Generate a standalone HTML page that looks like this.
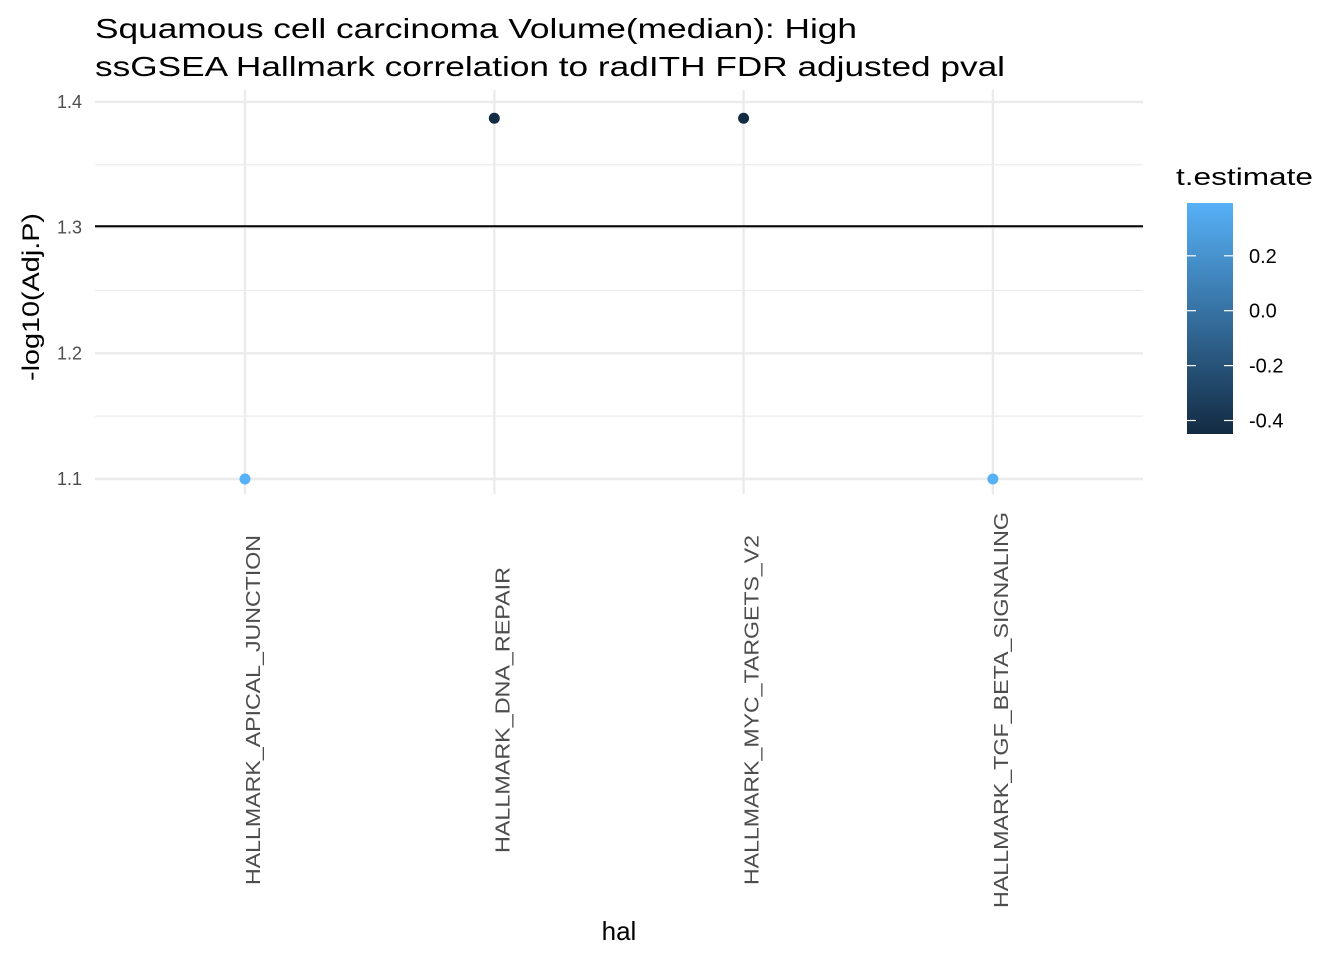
<!DOCTYPE html>
<html><head><meta charset="utf-8"><style>
body{margin:0;background:#fff;font-family:"Liberation Sans",Arial,sans-serif}
</style></head><body>
<svg id="chart" width="1344" height="960" xmlns="http://www.w3.org/2000/svg" font-family="Liberation Sans, Arial, sans-serif">
<defs><linearGradient id="cb" x1="0" y1="1" x2="0" y2="0"><stop offset="0" stop-color="#132B43"/><stop offset="1" stop-color="#56B1F7"/></linearGradient></defs>
<text x="95" y="38" font-size="28" textLength="762" lengthAdjust="spacingAndGlyphs" fill="#000">Squamous cell carcinoma Volume(median): High</text>
<text x="95" y="76" font-size="28" textLength="910" lengthAdjust="spacingAndGlyphs" fill="#000">ssGSEA Hallmark correlation to radITH FDR adjusted pval</text>
<g id="grid"></g><g id="marks"></g><g id="axes"></g>
<text x="619" y="940" font-size="26" text-anchor="middle">hal</text>
<text transform="translate(39,297) rotate(-90)" font-size="24" textLength="168" lengthAdjust="spacingAndGlyphs" text-anchor="middle">-log10(Adj.P)</text>
<g>
<text x="1176" y="185" font-size="24" textLength="137" lengthAdjust="spacingAndGlyphs">t.estimate</text>
<rect x="1187" y="203" width="46" height="231" fill="url(#cb)"/>
<g id="cbticks"></g>
</g>
</svg>
<script>
const categories=["HALLMARK_APICAL_JUNCTION","HALLMARK_DNA_REPAIR","HALLMARK_MYC_TARGETS_V2","HALLMARK_TGF_BETA_SIGNALING"];
const pvals=[1.1,1.387,1.387,1.1];
const tvals=[0.39,-0.45,-0.45,0.39];
const yTicks=[1.1,1.2,1.3,1.4];
const cbTicks=[0.2,0.0,-0.2,-0.4];
const cbLabels=["0.2","0.0","-0.2","-0.4"];
const hline=1.30103;
const NS="http://www.w3.org/2000/svg";
const x0=95,x1=1143;
function xs(i){return 245+i*249.3;}
function ys(v){return 479-(v-1.1)*1257;}
function cbY(v){return 310.7-v*274.5;}
const tMin=-0.448,tMax=0.393;
function col(t){const f=(t-tMin)/(tMax-tMin);const a=[0x13,0x2B,0x43],b=[0x56,0xB1,0xF7];return "rgb("+a.map((c,i)=>Math.round(c+(b[i]-c)*Math.max(0,Math.min(1,f)))).join(",")+")";}
function el(tag,attrs,parent,txt){const e=document.createElementNS(NS,tag);for(const k in attrs)e.setAttribute(k,attrs[k]);if(txt!==undefined)e.textContent=txt;document.getElementById(parent).appendChild(e);return e;}
for(let i=0;i<yTicks.length-1;i++){const m=(yTicks[i]+yTicks[i+1])/2;
const g=el("line",{x1:x0,x2:x1,y1:ys(m),y2:ys(m),stroke:"#ebebeb","stroke-width":1.2},"grid");

}
yTicks.forEach(v=>{const g=el("line",{x1:x0,x2:x1,y1:ys(v),y2:ys(v),stroke:"#ebebeb","stroke-width":2.4},"grid");


const t=el("text",{x:82,y:ys(v)+6,"font-size":18,fill:"#4d4d4d","text-anchor":"end"},"axes",v.toFixed(1));

});
const labLen=[350,286,350,396];
categories.forEach((c,i)=>{const g=el("line",{x1:xs(i),x2:xs(i),y1:90,y2:494,stroke:"#ebebeb","stroke-width":2.4},"grid");


const t=el("text",{transform:"translate("+(xs(i)+15)+",710) rotate(-90)","font-size":20,fill:"#4d4d4d","text-anchor":"middle",textLength:labLen[i],lengthAdjust:"spacingAndGlyphs"},"axes",c);

});
const h=el("line",{x1:x0,x2:x1,y1:ys(hline),y2:ys(hline),stroke:"#000","stroke-width":2},"marks");


categories.forEach((c,i)=>{const p=el("circle",{cx:xs(i),cy:ys(pvals[i]),r:5.5,fill:col(tvals[i])},"marks");

});
cbTicks.forEach((v,i)=>{const y=cbY(v);
const a=el("line",{x1:1187,x2:1196,y1:y,y2:y,stroke:"#fff","stroke-width":1.2},"cbticks");


const b=el("line",{x1:1224,x2:1233,y1:y,y2:y,stroke:"#fff","stroke-width":1.2},"cbticks");


const t=el("text",{x:1249,y:y+7,"font-size":20,fill:"#000"},"cbticks",cbLabels[i]);

});
</script>
</body></html>
